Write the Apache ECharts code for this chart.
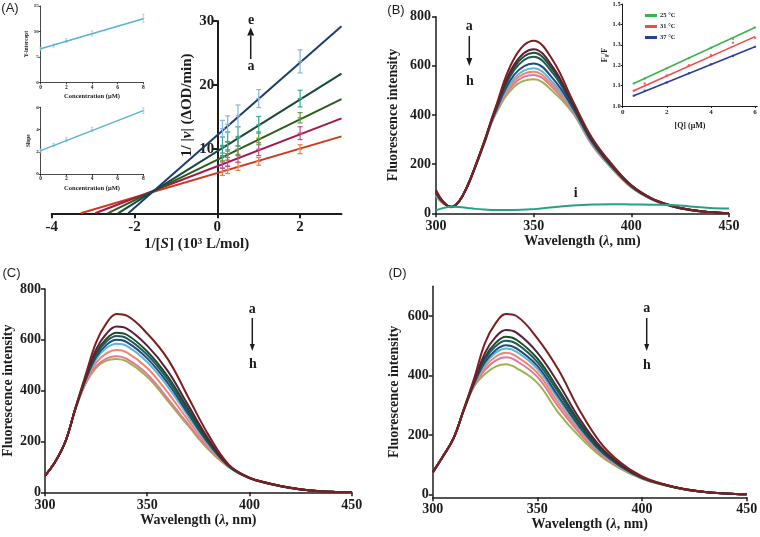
<!DOCTYPE html>
<html>
<head>
<meta charset="utf-8">
<script src="https://cdn.jsdelivr.net/npm/echarts@6/dist/echarts.min.js"></script>
<style>
html, body { margin: 0; padding: 0; background: #fff; }
#chart { width: 760px; height: 537px; }
</style>
</head>
<body>
<div id="chart"></div>
<script>
// ---------- panel A : double reciprocal plot ----------
var sInv = [0.125, 0.25, 0.5, 1, 2];
var lbNames = ['a', 'b', 'c', 'd', 'e'];
var lbXint = [-3.3, -2.95, -2.65, -2.4, -2.15];   // where each fit line meets 1/v = 0
var lbAtThree = [12.0, 14.8, 17.8, 21.8, 29.2];    // fit value at 1/[S] = 3
var lbPts = [
  [6.5, 6.8, 7.3, 8.1, 10.0],
  [8.0, 8.3, 9.0, 10.0, 12.5],
  [9.4, 9.9, 10.5, 11.7, 14.9],
  [10.4, 11.2, 12.0, 13.8, 17.9],
  [13.2, 13.9, 15.2, 17.9, 23.7]
];
var lbErr = [
  [0.6, 0.6, 0.6, 0.6, 0.7],
  [1.0, 1.0, 1.0, 1.0, 1.0],
  [1.2, 1.2, 1.3, 1.0, 0.8],
  [1.5, 1.5, 1.5, 1.3, 1.3],
  [1.3, 1.3, 1.7, 1.4, 1.8]
];
// secondary plots
var conc = [0, 1, 2, 4, 8];
var yIntercept = [6.6, 7.2, 8.2, 9.6, 12.6];
var yInterceptErr = [0.3, 0.3, 0.4, 0.5, 0.8];
var yInterceptFit = [6.6, 12.5];   // at conc 0 and 8
var slopeVals = [2.1, 2.6, 3.1, 4.0, 5.7];
var slopeErr = [0.15, 0.15, 0.2, 0.2, 0.25];
var slopeFit = [2.1, 5.7];

// ---------- panel B : emission spectra ----------
var wlB = [300, 304, 308, 312, 316, 320, 325, 330, 340, 350, 360, 370, 380, 390, 400, 410, 420, 430, 440, 450];
var specB = [
  [95, 45, 25, 50, 110, 190, 300, 420, 630, 702, 620, 458, 305, 200, 115, 63, 33, 14, 5, 0],
  [90, 43, 26, 50, 110, 189, 298, 415, 605, 668, 593, 447, 299, 196, 113, 62, 32, 14, 5, 0],
  [87, 43, 26, 51, 109, 188, 297, 412, 594, 653, 581, 442, 296, 194, 112, 61, 32, 14, 5, 0],
  [85, 42, 26, 51, 109, 188, 296, 410, 582, 637, 568, 437, 293, 193, 111, 61, 32, 14, 5, 0],
  [80, 41, 27, 51, 109, 187, 294, 405, 563, 610, 547, 429, 288, 189, 109, 60, 31, 13, 5, 0],
  [77, 40, 27, 51, 109, 186, 293, 402, 548, 590, 531, 422, 284, 187, 108, 59, 31, 13, 5, 0],
  [75, 39, 27, 52, 108, 186, 292, 400, 538, 576, 520, 418, 282, 186, 107, 59, 31, 13, 5, 0],
  [73, 39, 28, 52, 108, 186, 291, 398, 528, 563, 509, 414, 279, 184, 106, 59, 30, 13, 5, 0],
  [70, 38, 28, 52, 108, 185, 290, 395, 515, 545, 495, 408, 276, 182, 105, 58, 30, 13, 5, 0]
];
var specBi = [12, 22, 27, 26, 22, 18, 15, 13, 13, 17, 25, 32, 36, 37, 36, 35, 34, 28, 22, 20];
// Stern-Volmer inset
var qConc = [0.5, 1, 2, 3, 4, 5, 6];
var tempNames = ['25 °C', '31 °C', '37 °C'];
var f0f = [
  [1.11, 1.135, 1.185, 1.235, 1.285, 1.33, 1.385],
  [1.075, 1.11, 1.15, 1.2, 1.25, 1.31, 1.335],
  [1.05, 1.075, 1.115, 1.16, 1.205, 1.245, 1.29]
];
var f0fFit = [[1.11, 1.385], [1.075, 1.34], [1.05, 1.29]];  // at [Q] 0.5 and 6

// ---------- panels C and D ----------
var wlCD = [300, 305, 310, 315, 320, 325, 330, 335, 340, 350, 360, 370, 380, 390, 400, 410, 420, 430, 440, 450];
var specC = [
  [65, 120, 200, 335, 465, 590, 665, 702, 695, 625, 525, 375, 225, 108, 58, 35, 18, 7, 2, 0],
  [65, 120, 200, 334, 455, 562, 624, 652, 644, 577, 478, 343, 209, 105, 57, 34, 18, 7, 2, 0],
  [65, 120, 200, 333, 450, 548, 604, 628, 620, 554, 456, 328, 201, 104, 57, 34, 18, 7, 2, 0],
  [65, 120, 200, 333, 448, 541, 593, 615, 606, 541, 444, 319, 197, 103, 57, 34, 18, 7, 2, 0],
  [65, 120, 200, 332, 445, 532, 580, 600, 591, 527, 430, 310, 192, 102, 56, 34, 17, 7, 2, 0],
  [65, 120, 200, 332, 442, 524, 568, 585, 576, 513, 416, 300, 187, 101, 56, 34, 17, 7, 2, 0],
  [65, 120, 200, 331, 437, 510, 547, 560, 551, 489, 393, 284, 179, 100, 56, 33, 17, 7, 2, 0],
  [65, 120, 200, 330, 432, 496, 526, 535, 525, 465, 369, 268, 171, 99, 55, 33, 17, 7, 2, 0],
  [65, 120, 200, 330, 430, 490, 518, 525, 515, 455, 360, 262, 168, 98, 55, 33, 17, 7, 2, 0]
];
var specD = [
  [75, 130, 190, 290, 395, 510, 575, 607, 600, 525, 420, 285, 175, 105, 60, 35, 18, 8, 3, 0],
  [74, 129, 189, 288, 385, 476, 529, 553, 544, 477, 374, 256, 161, 99, 57, 34, 18, 8, 3, 0],
  [74, 129, 189, 288, 381, 462, 509, 530, 520, 457, 354, 244, 154, 96, 56, 34, 18, 8, 3, 0],
  [73, 129, 189, 287, 379, 454, 498, 517, 507, 445, 343, 237, 151, 94, 56, 33, 17, 8, 3, 0],
  [73, 129, 189, 287, 376, 445, 485, 502, 491, 432, 330, 229, 147, 93, 55, 33, 17, 8, 3, 0],
  [73, 129, 189, 287, 374, 438, 476, 491, 480, 422, 321, 223, 144, 91, 55, 33, 17, 8, 3, 0],
  [73, 128, 188, 286, 372, 429, 463, 476, 464, 409, 308, 215, 140, 90, 54, 33, 17, 8, 3, 0],
  [72, 128, 188, 286, 369, 419, 450, 461, 449, 395, 295, 207, 136, 88, 53, 32, 17, 8, 3, 0],
  [72, 128, 188, 285, 365, 405, 430, 438, 425, 375, 275, 195, 130, 85, 52, 32, 17, 8, 3, 0]
];

// ---------- styles ----------
var SERIF = '"Liberation Serif", "DejaVu Serif", serif';
var INK = '#1c1c1c';
var specColors = ['#7c1f1f', '#5a1f3c', '#1f4d2c', '#1f5b58', '#214b82', '#5fb5da', '#f0866e', '#e07898', '#9db24c'];
var lbColors = ['#cf3a1e', '#a3184a', '#2e5b1b', '#17493b', '#1d3c6c'];
var lbBarColors = ['#e8804a', '#c8508a', '#62a040', '#3fa596', '#84b6e0'];
var insetBlue = '#57b3d0';
var tempColors = ['#3cb44e', '#f04a4a', '#283d9c'];

function nameStyle(fs, pad) {
  return {
    fontFamily: SERIF, fontWeight: 'bold', fontSize: fs, color: INK, padding: pad || 0,
    rich: {
      i: { fontFamily: SERIF, fontWeight: 'bold', fontStyle: 'italic', fontSize: fs, color: INK }
    }
  };
}

function valAxis(o) {
  var lw = o.lw || 1.5;
  return {
    type: 'value', gridIndex: o.grid, min: o.min, max: o.max, offset: o.offset || 0,
    axisLine: { show: true, onZero: false, lineStyle: { color: INK, width: lw } },
    axisTick: { show: true, length: o.tick || 4, lineStyle: { color: INK, width: lw }, customValues: o.ticks },
    axisLabel: {
      customValues: o.ticks, fontFamily: SERIF, fontWeight: 'bold', fontSize: o.fs || 14,
      color: INK, margin: o.margin || 5, formatter: o.fmt
    },
    splitLine: { show: false },
    name: o.name, nameLocation: 'middle', nameGap: o.gap,
    nameTextStyle: nameStyle(o.nfs || 14, o.npad)
  };
}

// error bar with caps
function errBars(capW, color, lw) {
  return function (params, api) {
    var x = api.value(0), y = api.value(1), e = api.value(2);
    var hi = api.coord([x, y + e]), lo = api.coord([x, y - e]), c = api.coord([x, y]);
    var st = { stroke: color, lineWidth: lw };
    return {
      type: 'group',
      children: [
        { type: 'line', shape: { x1: hi[0], y1: hi[1], x2: lo[0], y2: lo[1] }, style: st },
        { type: 'line', shape: { x1: hi[0] - capW, y1: hi[1], x2: hi[0] + capW, y2: hi[1] }, style: st },
        { type: 'line', shape: { x1: lo[0] - capW, y1: lo[1], x2: lo[0] + capW, y2: lo[1] }, style: st },
        { type: 'line', shape: { x1: c[0] - capW, y1: c[1], x2: c[0] + capW, y2: c[1] }, style: st }
      ]
    };
  };
}

var grids = [
  { left: 51.7, top: 21, width: 289.8, height: 192.3 },   // A main
  { left: 40.7, top: 6, width: 102.6, height: 76.3 },     // A inset y-intercept
  { left: 40.7, top: 107.3, width: 102.6, height: 66.7 }, // A inset slope
  { left: 436, top: 16.7, width: 293, height: 196.6 },    // B main
  { left: 622.7, top: 4, width: 134.5, height: 102 },     // B inset
  { left: 45, top: 289, width: 306.7, height: 203.3 },    // C
  { left: 432.7, top: 286.3, width: 314, height: 211 }    // D
];
grids.forEach(function (g) { g.containLabel = false; g.outerBoundsMode = 'none'; });

var xAxes = [
  valAxis({ grid: 0, min: -4, max: 3, ticks: [-4, -2, 0, 2], fs: 15, tick: 5, lw: 2, margin: 6,
    name: '1/[{i|S}] (10³ L/mol)', gap: 23, nfs: 15 }),
  valAxis({ grid: 1, min: 0, max: 8, ticks: [0, 2, 4, 6, 8], fs: 5.5, tick: 2, lw: 0.8, margin: 2,
    name: 'Concentration (μM)', gap: 11, nfs: 6.5 }),
  valAxis({ grid: 2, min: 0, max: 8, ticks: [0, 2, 4, 6, 8], fs: 5.5, tick: 2, lw: 0.8, margin: 2,
    name: 'Concentration (μM)', gap: 11, nfs: 6.5 }),
  valAxis({ grid: 3, min: 300, max: 450, ticks: [300, 350, 400, 450], fs: 14, tick: 4, margin: 6,
    name: 'Wavelength ({i|λ}, nm)', gap: 19 }),
  valAxis({ grid: 4, min: 0, max: 6.1, ticks: [0, 2, 4, 6], fs: 7, tick: 2, lw: 1, margin: 3,
    name: '[Q] (μM)', gap: 16, nfs: 8 }),
  valAxis({ grid: 5, min: 300, max: 450, ticks: [300, 350, 400, 450], fs: 14, tick: 4, margin: 6,
    name: 'Wavelength ({i|λ}, nm)', gap: 16 }),
  valAxis({ grid: 6, min: 300, max: 450, ticks: [300, 350, 400, 450], fs: 14, tick: 4, margin: 5,
    name: 'Wavelength ({i|λ}, nm)', gap: 10 })
];
var yAxes = [
  // the ordinate of panel A crosses at 1/[S] = 0
  valAxis({ grid: 0, min: 0, max: 30, ticks: [10, 20, 30], fs: 15, tick: 5, lw: 2, margin: 3,
    offset: -165.6, name: '1/ |{i|v}| (ΔOD/min)', gap: 23, nfs: 15, npad: [0, 0, 0, 24] }),
  valAxis({ grid: 1, min: 0, max: 15, ticks: [0, 5, 10, 15], fs: 5, tick: 2, lw: 0.8, margin: 2,
    name: 'Y-intercept', gap: 11, nfs: 5.5 }),
  valAxis({ grid: 2, min: 0, max: 6, ticks: [0, 2, 4, 6], fs: 5, tick: 2, lw: 0.8, margin: 2,
    name: 'Slope', gap: 9, nfs: 5.5 }),
  valAxis({ grid: 3, min: 0, max: 800, ticks: [0, 200, 400, 600, 800], fs: 14, tick: 4, margin: 5,
    name: 'Fluorescence intensity', gap: 36 }),
  valAxis({ grid: 4, min: 1.0, max: 1.5, ticks: [1.0, 1.1, 1.2, 1.3, 1.4, 1.5], fs: 6.5, tick: 2, lw: 1, margin: 2,
    name: 'F₀/F', gap: 14, nfs: 8, fmt: function (v) { return v.toFixed(1); } }),
  valAxis({ grid: 5, min: 0, max: 800, ticks: [0, 200, 400, 600, 800], fs: 14, tick: 4, margin: 4,
    name: 'Fluorescence intensity', gap: 30 }),
  valAxis({ grid: 6, min: -10, max: 700, ticks: [0, 200, 400, 600], fs: 14, tick: 4, margin: 4,
    name: 'Fluorescence intensity', gap: 31 })
];

var series = [];

// panel A lines and error bars
lbNames.forEach(function (nm, k) {
  series.push({
    name: nm, type: 'line', xAxisIndex: 0, yAxisIndex: 0, showSymbol: false, silent: true,
    data: [[lbXint[k], 0], [3, lbAtThree[k]]],
    lineStyle: { color: lbColors[k], width: 2 }, z: 3
  });
  series.push({
    type: 'custom', xAxisIndex: 0, yAxisIndex: 0, renderItem: errBars(2.5, lbBarColors[k], 1.2),
    encode: { x: 0, y: 1 }, z: 4,
    data: sInv.map(function (x, i) { return [x, lbPts[k][i], lbErr[k][i]]; })
  });
});

// panel A insets
[[1, yIntercept, yInterceptErr, yInterceptFit], [2, slopeVals, slopeErr, slopeFit]].forEach(function (p) {
  series.push({
    type: 'line', xAxisIndex: p[0], yAxisIndex: p[0], showSymbol: false, silent: true,
    data: [[conc[0], p[3][0]], [conc[conc.length - 1], p[3][1]]],
    lineStyle: { color: insetBlue, width: 1.5 }
  });
  series.push({
    type: 'custom', xAxisIndex: p[0], yAxisIndex: p[0], renderItem: errBars(1.3, '#9dd0e2', 0.8),
    encode: { x: 0, y: 1 },
    data: conc.map(function (x, i) { return [x, p[1][i], p[2][i]]; })
  });
});

// spectra helper
function addSpectra(ax, wl, sets) {
  for (var k = sets.length - 1; k >= 0; k--) {
    series.push({
      type: 'line', xAxisIndex: ax, yAxisIndex: ax, showSymbol: false, silent: true, smooth: 0.4,
      data: wl.map(function (w, i) { return [w, sets[k][i]]; }),
      lineStyle: { color: specColors[k], width: 2 }
    });
  }
}
addSpectra(3, wlB, specB);
series.push({
  type: 'line', xAxisIndex: 3, yAxisIndex: 3, showSymbol: false, silent: true, smooth: 0.4,
  data: wlB.map(function (w, i) { return [w, specBi[i]]; }),
  lineStyle: { color: '#27a184', width: 2 }
});
addSpectra(5, wlCD, specC);
addSpectra(6, wlCD, specD);

// panel B inset
tempNames.forEach(function (nm, k) {
  series.push({
    name: nm, type: 'line', xAxisIndex: 4, yAxisIndex: 4, showSymbol: false, silent: true,
    data: [[qConc[0], f0fFit[k][0]], [qConc[qConc.length - 1], f0fFit[k][1]]],
    lineStyle: { color: tempColors[k], width: 1.6 }, itemStyle: { color: tempColors[k] }
  });
  series.push({
    type: 'scatter', xAxisIndex: 4, yAxisIndex: 4, symbolSize: 2.5, silent: true,
    data: qConc.map(function (q, i) { return [q, f0f[k][i]]; }),
    itemStyle: { color: tempColors[k] }
  });
});

// annotations
function txt(s, x, y, size, family, weight) {
  return {
    type: 'text', x: x, y: y, z: 50,
    style: { text: s, fontSize: size, fontFamily: family || SERIF, fontWeight: weight || 'bold',
      fill: INK, align: 'center', verticalAlign: 'middle' }
  };
}
function arrow(x, yTail, yTip, w, len) {
  var dir = yTip > yTail ? 1 : -1;
  return [
    { type: 'line', z: 50, shape: { x1: x, y1: yTail, x2: x, y2: yTip - dir * len }, style: { stroke: INK, lineWidth: 1.5 } },
    { type: 'polygon', z: 50, shape: { points: [[x - w / 2, yTip - dir * len], [x + w / 2, yTip - dir * len], [x, yTip]] }, style: { fill: INK } }
  ];
}
var SANS = '"Liberation Sans", Arial, sans-serif';
var graphics = [
  txt('(A)', 10, 8.5, 13, SANS, 'normal'),
  txt('(B)', 396, 10, 13, SANS, 'normal'),
  txt('(C)', 11.5, 273, 13, SANS, 'normal'),
  txt('(D)', 397.5, 273, 13, SANS, 'normal'),
  txt('e', 251, 20, 14), txt('a', 251, 66.5, 14),
  txt('a', 469.3, 26, 14), txt('h', 470, 81, 14),
  txt('i', 575.7, 193, 14),
  txt('a', 252.3, 309.3, 14), txt('h', 253, 364.3, 14),
  txt('a', 646.7, 308.3, 14), txt('h', 647, 365, 14)
]
  .concat(arrow(250.7, 59, 27.5, 7, 8))
  .concat(arrow(469.3, 36, 66, 6, 8))
  .concat(arrow(252.3, 318, 351, 5, 7))
  .concat(arrow(646.7, 318, 351, 5, 7));

var chart = echarts.init(document.getElementById('chart'), null, { renderer: 'canvas' });
chart.setOption({
  animation: false,
  backgroundColor: '#fff',
  grid: grids,
  xAxis: xAxes,
  yAxis: yAxes,
  legend: {
    data: tempNames, orient: 'vertical', left: 640, top: 7, itemWidth: 12, itemHeight: 3,
    itemGap: 4, icon: 'rect', selectedMode: false,
    textStyle: { fontFamily: SERIF, fontWeight: 'bold', fontSize: 6.5, color: INK, padding: [0, 0, 0, -2] }
  },
  series: series,
  graphic: graphics
});
</script>
</body>
</html>
